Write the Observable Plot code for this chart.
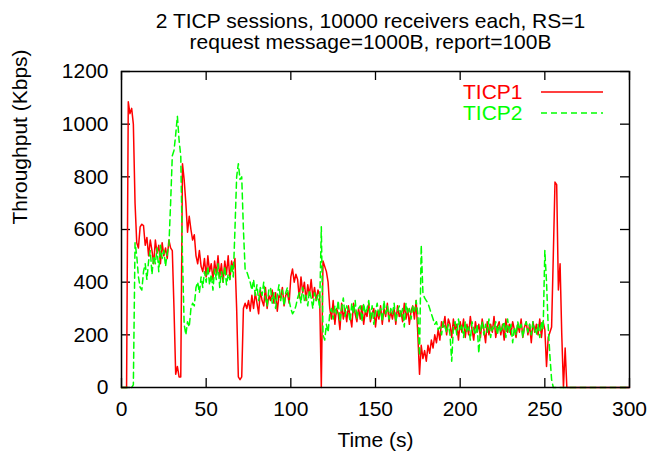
<!DOCTYPE html>
<html><head><meta charset="utf-8">
<script src="https://cdn.jsdelivr.net/npm/d3@7"></script>
<script src="https://cdn.jsdelivr.net/npm/@observablehq/plot@0.6"></script>
<style>body{margin:0;background:#fff}</style>
</head><body><div id="chart"></div>
<script>
// Throughput samples, one per second starting at t = 0 s
const ticp1 = [0,0,0,0,1085,1040,1060,1000,700,550,530,610,620,615,540,570,500,560,520,470,
560,510,540,470,550,500,530,490,560,530,520,300,50,80,40,40,850,790,700,590,
650,600,560,580,500,470,520,460,440,490,420,500,440,470,410,480,430,500,420,470,
400,480,430,500,410,480,450,490,300,40,30,40,300,320,300,330,290,350,300,360,
320,280,370,330,310,380,300,350,330,370,320,360,290,350,340,380,310,350,360,320,
420,450,400,430,410,340,420,360,400,330,390,350,410,340,380,330,370,350,0,480,
460,440,400,300,260,330,240,300,280,220,320,260,300,250,310,270,230,320,280,250,
300,260,310,240,290,270,320,250,280,300,230,290,260,310,240,300,270,320,250,290,
260,300,240,310,270,290,250,320,260,300,240,290,310,260,330,200,50,160,110,140,
100,160,130,180,150,200,170,220,180,250,230,270,200,260,240,190,260,220,240,180,
250,210,260,190,240,200,270,220,180,250,210,240,190,260,220,170,250,200,240,210,
270,190,230,250,200,240,180,260,210,240,200,250,220,190,240,210,260,190,230,250,
200,240,170,250,210,240,200,260,190,250,220,80,190,210,230,500,780,770,370,470,
200,0,150,0,0];
const ticp2 = [0,0,0,0,0,0,0,10,550,500,420,380,370,440,470,410,480,520,430,500,
470,530,440,540,490,520,460,510,540,700,880,900,960,1030,940,880,500,240,200,250,
230,300,320,310,380,400,360,420,380,440,400,460,390,430,370,450,410,470,380,440,
400,460,390,430,410,470,420,600,800,850,790,800,600,450,440,420,400,370,410,350,
390,330,380,350,400,340,310,370,380,320,360,300,350,390,330,370,310,360,380,330,
300,280,290,310,340,360,320,380,330,350,310,370,340,300,360,330,350,300,610,200,
180,240,210,280,300,260,310,280,330,250,300,340,270,310,290,250,320,280,330,260,
300,310,250,320,280,300,330,260,310,240,290,320,270,300,250,330,280,310,260,300,
280,320,250,290,310,270,300,230,320,280,300,260,310,290,330,280,120,540,360,340,
330,320,300,280,260,240,250,220,230,200,250,230,210,240,200,100,230,250,200,260,
220,240,190,250,210,230,180,250,220,200,240,130,220,250,200,240,210,260,190,230,
220,250,200,240,210,230,250,190,260,210,240,170,230,200,250,220,240,190,230,250,
210,240,200,250,220,200,240,190,250,220,520,400,230,120,30,0];
const seriesNames = ["TICP1", "TICP2"];
const seriesColors = ["#ff0000", "#00ff00"];
const lastTime = 300;
const xTicks = [0, 50, 100, 150, 200, 250, 300];
const yTicks = [0, 200, 400, 600, 800, 1000, 1200];
const titleLines = ["2 TICP sessions, 10000 receivers each, RS=1", "request message=1000B, report=100B"];

function toRows(vals, name) {
  const rows = vals.map((v, i) => ({t: i, v, s: name}));
  rows.push({t: lastTime, v: 0, s: name});
  return rows;
}
const rows1 = toRows(ticp1, seriesNames[0]);
const rows2 = toRows(ticp2, seriesNames[1]);

const FONT = "Liberation Sans, Arial, sans-serif";
const FS = 21;

const chart = Plot.plot({
  width: 650, height: 454,
  marginLeft: 121, marginRight: 21, marginTop: 71, marginBottom: 67,
  style: {fontFamily: FONT, fontSize: FS + "px", background: "#fff", color: "#000"},
  x: {domain: [0, 300], ticks: xTicks},
  y: {domain: [0, 1200], ticks: yTicks},
  marks: [
    Plot.axisX({ticks: xTicks, tickSize: 0, tickPadding: 14, fontSize: FS, label: null, tickFormat: d => String(d)}),
    Plot.axisY({ticks: yTicks, tickSize: 0, tickPadding: 13, fontSize: FS, label: null, tickFormat: d => String(d)}),
    Plot.tickX(xTicks, {x: d => d, insetTop: 307, stroke: "#000", strokeWidth: 1.3}),
    Plot.tickX(xTicks, {x: d => d, insetBottom: 307, stroke: "#000", strokeWidth: 1.3}),
    Plot.tickY(yTicks, {y: d => d, insetRight: 499, stroke: "#000", strokeWidth: 1.3}),
    Plot.tickY(yTicks, {y: d => d, insetLeft: 499, stroke: "#000", strokeWidth: 1.3}),
    Plot.line(rows1, {x: "t", y: "v", stroke: seriesColors[0], strokeWidth: 1.5, curve: "linear"}),
    Plot.line(rows2, {x: "t", y: "v", stroke: seriesColors[1], strokeWidth: 1.5, strokeDasharray: "6,4", curve: "linear"}),
    Plot.frame({stroke: "#000", strokeWidth: 1.5}),
    Plot.text([titleLines[0]], {frameAnchor: "top", dx: -5, dy: -50, lineAnchor: "middle", fontSize: FS, fill: "#000"}),
    Plot.text([titleLines[1]], {frameAnchor: "top", dx: -5, dy: -29, lineAnchor: "middle", fontSize: FS, fill: "#000"}),
    Plot.text(["Time (s)"], {frameAnchor: "bottom", dy: 53, lineAnchor: "middle", fontSize: FS, fill: "#000"}),
    Plot.text(["Throughput (Kbps)"], {frameAnchor: "left", dx: -101, dy: -5, rotate: -90, lineAnchor: "middle", fontSize: FS, fill: "#000"}),
    Plot.text([seriesNames[0]], {frameAnchor: "top-right", dx: -107, dy: 21, textAnchor: "end", lineAnchor: "middle", fontSize: FS, fill: seriesColors[0]}),
    Plot.text([seriesNames[1]], {frameAnchor: "top-right", dx: -107, dy: 42, textAnchor: "end", lineAnchor: "middle", fontSize: FS, fill: seriesColors[1]})
  ]
});
document.getElementById("chart").appendChild(chart);

// legend line samples
const svg = d3.select(chart);
const lg = svg.append("g");
lg.append("line").attr("x1", 541).attr("x2", 603).attr("y1", 92).attr("y2", 92)
  .attr("stroke", seriesColors[0]).attr("stroke-width", 1.5);
lg.append("line").attr("x1", 541).attr("x2", 603).attr("y1", 113).attr("y2", 113)
  .attr("stroke", seriesColors[1]).attr("stroke-width", 1.5).attr("stroke-dasharray", "6,4");
</script>
</body></html>
